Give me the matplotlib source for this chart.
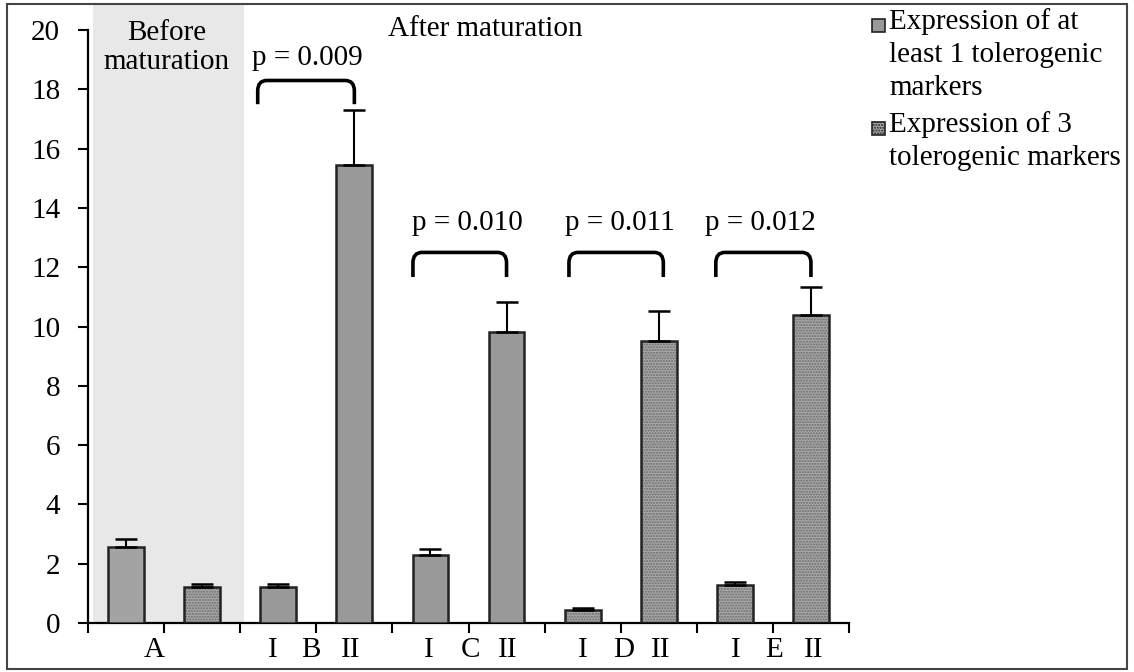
import numpy as np
import matplotlib.pyplot as plt
from matplotlib.path import Path
from matplotlib.patches import PathPatch, Rectangle

plt.rcParams['font.family'] = ['Liberation Serif', 'DejaVu Serif']
FS = 21

# bar data (slot centres 0.5 ... 9.5)
bar_x = [0.5, 1.5, 2.5, 3.5, 4.5, 5.5, 6.5, 7.5, 8.5, 9.5]
values = [2.55, 1.2, 1.2, 15.45, 2.28, 9.8, 0.45, 9.52, 1.27, 10.4]
errors = [0.27, 0.13, 0.12, 1.85, 0.2, 1.03, 0.05, 1.0, 0.12, 0.95]
stippled = [False, True, False, False, False, False, True, True, True, True]
solid_colors = ['#a3a3a3', None, '#999999', '#999999', '#999999', '#999999',
                None, None, None, None]

# x labels
label_pos = [0.87, 2.43, 2.93, 3.45, 4.48, 5.02, 5.52, 6.5, 7.04, 7.52, 8.51, 9.01, 9.54]
label_txt = ['A', 'I', 'B', 'II', 'I', 'C', 'II', 'I', 'D', 'II', 'I', 'E', 'II']

# significance brackets
brackets = [(2.23, 3.5, 17.5, 18.3), (4.27, 5.5, 11.67, 12.5),
            (6.32, 7.56, 11.67, 12.5), (8.25, 9.5, 11.67, 12.5)]
p_text = ['p = 0.009', 'p = 0.010', 'p = 0.011', 'p = 0.012']
p_pos = [(2.88, 19.05), (4.98, 13.5), (6.99, 13.5), (8.83, 13.5)]

legend_txt = ['Expression of at\nleast 1 tolerogenic\nmarkers',
              'Expression of 3\ntolerogenic markers']

fig = plt.figure(figsize=(11.34, 6.72), dpi=100)
ax = fig.add_axes([88 / 1134, 49 / 672, (849 - 88) / 1134, (623 - 4) / 672])
ax.set_xlim(0, 10)
ax.set_ylim(0, 20.88)

# outer frame
fig.patches.append(Rectangle((7 / 1134, 3 / 672), 1120 / 1134, 665 / 672,
                             transform=fig.transFigure, fill=False,
                             edgecolor='#444444', lw=1.5))

# shaded "before" region
ax.axvspan(0.07, 2.05, ymin=0, ymax=1, color='#e8e8e8', zorder=0, lw=0)

w = 0.47
for x, v, e, st, c in zip(bar_x, values, errors, stippled, solid_colors):
    if st:
        ax.bar(x, v, w, color='#a8a8a8', hatch='......', edgecolor='#6a6a6a',
               lw=0, zorder=2)
        ax.bar(x, v, w, fill=False, edgecolor='#222222', lw=1.8, zorder=3)
    else:
        ax.bar(x, v, w, color=c, edgecolor='#222222', lw=1.8, zorder=3)
    ax.errorbar(x, v, yerr=[[0], [e]], fmt='none', ecolor='black',
                elinewidth=1.5, capsize=8, capthick=1.8, zorder=4)

# brackets with rounded corners
for (x0, x1, yb, yt), txt, (tx, ty) in zip(brackets, p_text, p_pos):
    r = 0.12
    ry = 0.35
    verts = [(x0, yb), (x0, yt - ry), (x0, yt), (x0 + r, yt),
             (x1 - r, yt), (x1, yt), (x1, yt - ry), (x1, yb)]
    codes = [Path.MOVETO, Path.LINETO, Path.CURVE3, Path.CURVE3,
             Path.LINETO, Path.CURVE3, Path.CURVE3, Path.LINETO]
    ax.add_patch(PathPatch(Path(verts, codes), fill=False, lw=2.6,
                           edgecolor='black', zorder=5, capstyle='butt'))
    ax.text(tx, ty, txt, ha='center', va='center', fontsize=FS)

ax.text(1.03, 20.35, 'Before\nmaturation', ha='center', va='top', fontsize=FS,
        linespacing=1.15)
ax.text(5.22, 20.05, 'After maturation', ha='center', va='center', fontsize=FS)

# axes styling
for s in ['top', 'right']:
    ax.spines[s].set_visible(False)
ax.spines['left'].set_bounds(0, 20)
ax.spines['left'].set_linewidth(1.6)
ax.spines['bottom'].set_linewidth(1.6)
ax.set_yticks(np.arange(0, 21, 2))
ax.tick_params(axis='y', direction='out', length=7, width=1.5, labelsize=FS, pad=13)
ax.set_xticks(np.arange(0, 11, 1), minor=True)
ax.tick_params(axis='x', which='minor', direction='out', length=7, width=1.5)
ax.set_xticks(label_pos)
ax.set_xticklabels(label_txt)
ax.tick_params(axis='x', which='major', length=0, labelsize=FS, pad=10)

# legend drawn by hand: square marker aligned with first text line
for (ytop, txt, st) in zip([8, 111], legend_txt, [False, True]):
    y0 = 1 - (ytop + 24) / 672
    if st:
        sq = Rectangle((872 / 1134, y0), 13 / 1134, 13 / 672,
                       transform=fig.transFigure, facecolor='#a8a8a8',
                       hatch='......', edgecolor='#222222', lw=1.2)
    else:
        sq = Rectangle((872 / 1134, y0), 13 / 1134, 13 / 672,
                       transform=fig.transFigure, facecolor='#999999',
                       edgecolor='#222222', lw=1.2)
    fig.patches.append(sq)
    fig.text(889 / 1134, 1 - ytop / 672, txt, ha='left', va='top',
             fontsize=FS, linespacing=1.36)

fig.savefig('out.png', dpi=100)
